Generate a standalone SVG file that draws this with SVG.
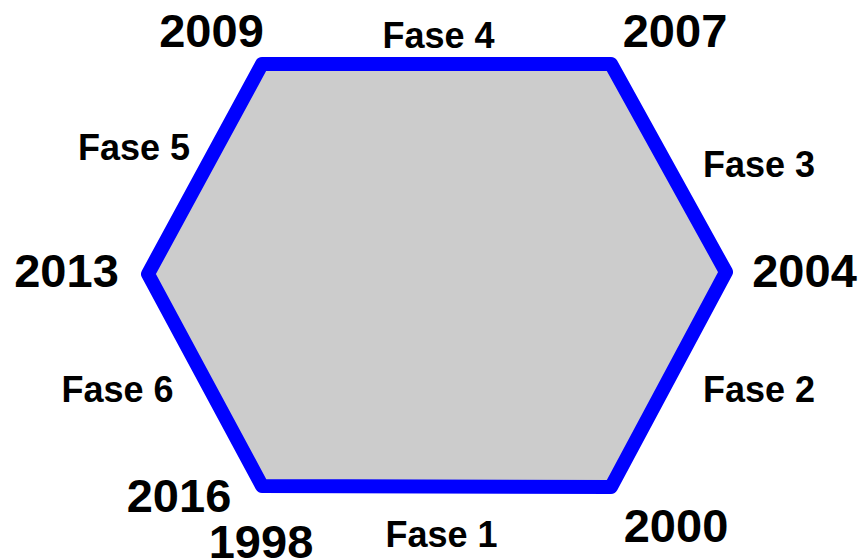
<svg xmlns="http://www.w3.org/2000/svg" width="860" height="560" viewBox="0 0 860 560">
<style>
.hex{fill:#cccccc;stroke:#0000ff;stroke-width:14;stroke-linejoin:round}
.yr{font-family:"Liberation Sans",Arial,sans-serif;font-weight:bold;font-size:47px;fill:#000;text-anchor:middle}
.ph{font-family:"Liberation Sans",Arial,sans-serif;font-weight:bold;font-size:36px;fill:#000;text-anchor:middle}
</style>
<rect width="860" height="560" fill="#ffffff"/>
<g id="hexagon">
<polygon class="hex" points="262,64 611,64 726,272 611,487 262,486 148,274"/>
</g>
<g id="connectors"></g>
<g id="years">
<text class="yr" x="211.5" y="47">2009</text>
<text class="yr" x="675" y="47">2007</text>
<text class="yr" x="66.5" y="287">2013</text>
<text class="yr" x="804.5" y="287">2004</text>
<text class="yr" x="179" y="512">2016</text>
<text class="yr" x="261" y="558">1998</text>
<text class="yr" x="676" y="542">2000</text>
</g>
<g id="phases">
<text class="ph" x="438.5" y="48">Fase 4</text>
<text class="ph" x="134" y="160">Fase 5</text>
<text class="ph" x="759" y="177">Fase 3</text>
<text class="ph" x="117.5" y="402">Fase 6</text>
<text class="ph" x="759" y="402">Fase 2</text>
<text class="ph" x="441.5" y="547">Fase 1</text>
</g>
</svg>
